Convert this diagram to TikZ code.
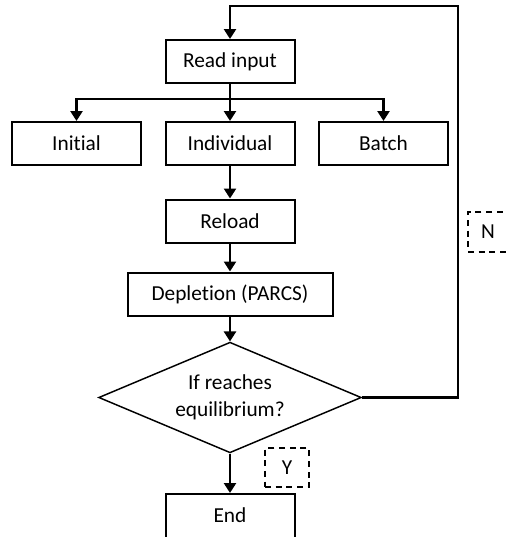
\documentclass[tikz,border=0pt]{standalone}
\usepackage{fontspec}
\setmainfont{Carlito}[Ligatures=NoCommon]
\usetikzlibrary{shapes.geometric,arrows.meta}

\begin{document}
\begin{tikzpicture}[x=0.75pt,y=-0.75pt,
  casella/.style={draw, line width=1.5pt, inner sep=0pt,
    minimum width=96.75pt, minimum height=32.25pt,
    font=\fontsize{16}{20}\selectfont},
  rombo/.style={draw, diamond, shape aspect=2.37, line width=1.1pt, inner sep=0pt,
    minimum width=197pt, minimum height=83pt, align=center,
    font=\fontsize{16}{20}\selectfont},
  etichetta/.style={draw, line width=1.5pt, dash pattern=on 4.5pt off 3.5pt,
    inner sep=0pt, minimum width=30pt, minimum height=30pt,
    font=\fontsize{16}{20}\selectfont},
  freccia/.style={line width=2pt, -{Triangle[width=9pt,length=7.5pt]}}]

  % ---- Area del disegno (l'immagine taglia "End" e "N") -------------------
  \useasboundingbox (0,0) rectangle (507,537);
  \clip (0,0) rectangle (507,537);

  % ---- Caselle ------------------------------------------------------------
  \node[casella] (lettura) at (230,61.5) {Read input};
  \node[casella] (iniziale) at (76.5,143.5) {Initial};
  \node[casella] (singolo) at (230,143.5) {Individual};
  \node[casella] (lotto) at (383.5,143.5) {Batch};
  \node[casella] (ricarica) at (230,221) {Reload};
  \node[casella, minimum width=153.75pt] (esaurimento) at (230,294) {Depletion (PARCS)};
  \node[rombo] (verifica) at (230,397.5) {If reaches\\equilibrium?};
  % il bordo inferiore resta fuori dall'immagine
  \node[casella, minimum height=36pt, text depth=4.5pt] (fine) at (230,518) {End};

  % Etichette tratteggiate delle due uscite
  \node[etichetta] (no) at (488,232) {N};
  \node[etichetta, minimum width=33pt, minimum height=29pt] (si) at (287,467.5) {Y};

  % ---- Frecce ---------------------------------------------------------------
  \draw[freccia] (lettura.south) -- (singolo.north);
  \draw[freccia] (lettura.south) -- ++(0,15) -| (iniziale.north);
  \draw[freccia] (lettura.south) -- ++(0,15) -| (lotto.north);
  \draw[freccia] (singolo.south) -- (ricarica.north);
  \draw[freccia] (ricarica.south) -- (esaurimento.north);
  \draw[freccia] (esaurimento.south) -- (verifica.north);
  \draw[freccia] (verifica.south) -- (fine.north);

  % Ritorno: se non c'e' equilibrio si rilegge l'input
  \coordinate (angolo) at (458,6);
  \draw[freccia] (verifica.east) -| (angolo) -| (lettura.north);

\end{tikzpicture}
\end{document}
